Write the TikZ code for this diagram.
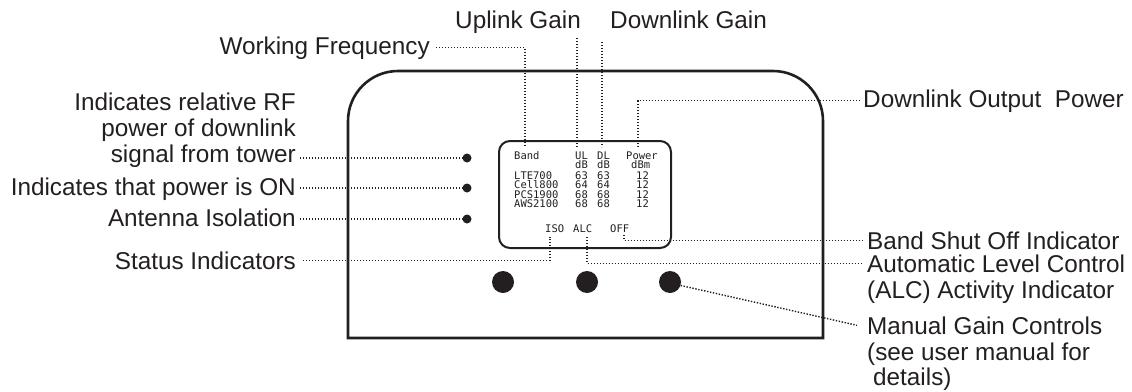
\documentclass[tikz,border=0pt]{standalone}
\usepackage{fontspec}
\setmainfont{Liberation Sans}
\newfontfamily\lcdfont{DejaVu Sans Mono}
\definecolor{ink}{HTML}{231F20}
\begin{document}
\begin{tikzpicture}[x=1pt,y=-1pt,
  lbl/.style={font=\fontsize{24.3}{28}\selectfont, inner sep=0pt, text=ink},
  lcd/.style={font=\lcdfont\fontsize{10.5}{11}\selectfont, inner sep=0pt, text height=7.6pt, text depth=0pt, anchor=base west, text=ink},
  dotline/.style={draw=ink, line width=1.4pt, dash pattern=on 1.4pt off 1.6pt},
  ledot/.style={circle, fill=ink, minimum size=9pt, inner sep=0pt},
  knob/.style={circle, fill=ink, minimum size=22pt, inner sep=0pt}]
\useasboundingbox (0,0) rectangle (1132,391);
% device body
\draw[ink, line width=2.6pt] (348,338) -- (348,121) .. controls (348,93.4) and (370.4,71) .. (398,71)
  -- (773,71) .. controls (800.6,71) and (823,93.4) .. (823,121) -- (823,338) -- cycle;
% display
\draw[ink, line width=2pt, rounded corners=11pt] (499,141) rectangle (671,248);
% display text
\node[lcd] (band) at (514,159.5) {Band};
\node[lcd] (ul) at (575,159.5) {UL};
\node[lcd] (dl) at (597,159.5) {DL};
\node[lcd] (pw) at (626,159.5) {Power};
\node[lcd] (db1) at (575,168.5) {dB};
\node[lcd] (db2) at (597,168.5) {dB};
\node[lcd] (dbm) at (631,168.5) {dBm};
\node[lcd] (r1) at (514,179.5) {LTE700};
\node[lcd] (r2) at (514,188.8) {Cell800};
\node[lcd] (r3) at (514,198.1) {PCS1900};
\node[lcd] (r4) at (514,207.4) {AWS2100};
\node[lcd] (u1) at (575,179.5) {63};
\node[lcd] (u2) at (575,188.8) {64};
\node[lcd] (u3) at (575,198.1) {68};
\node[lcd] (u4) at (575,207.4) {68};
\node[lcd] (v1) at (597,179.5) {63};
\node[lcd] (v2) at (597,188.8) {64};
\node[lcd] (v3) at (597,198.1) {68};
\node[lcd] (v4) at (597,207.4) {68};
\node[lcd] (p1) at (636,179.5) {12};
\node[lcd] (p2) at (636,188.8) {12};
\node[lcd] (p3) at (636,198.1) {12};
\node[lcd] (p4) at (636,207.4) {12};
\node[lcd] (iso) at (545,232.5) {ISO};
\node[lcd] (alc) at (573,232.5) {ALC};
\node[lcd] (off) at (610,232.5) {OFF};
% LEDs and knobs
\node[ledot] (d1) at (467,158) {};
\node[ledot] (d2) at (467,188) {};
\node[ledot] (d3) at (467,219) {};
\node[knob] (k1) at (503,282) {};
\node[knob] (k2) at (587,282) {};
\node[knob] (k3) at (670,282) {};
% labels top
\node[lbl, anchor=base west] (ulg) at (455,28) {Uplink Gain};
\node[lbl, anchor=base west] (dlg) at (610,28) {Downlink Gain};
\node[lbl, anchor=base east] (wf) at (430,54) {Working Frequency};
% labels left
\node[lbl, anchor=base east] (t1) at (296,110) {Indicates relative RF};
\node[lbl, anchor=base east] (t2) at (296,136) {power of downlink};
\node[lbl, anchor=base east] (t3) at (296,162) {signal from tower};
\node[lbl, anchor=base east] (on) at (296,195) {Indicates that power is ON};
\node[lbl, anchor=base east] (ant) at (296,226) {Antenna Isolation};
\node[lbl, anchor=base east] (stat) at (296,269) {Status Indicators};
% labels right
\node[lbl, anchor=base west] (dop) at (863,107) {Downlink Output\ \ Power};
\node[lbl, anchor=base west] (bso) at (867,249) {Band Shut Off Indicator};
\node[lbl, anchor=base west] (alcl) at (867,272) {Automatic Level Control};
\node[lbl, anchor=base west] (alcl2) at (867,298) {(ALC) Activity Indicator};
\node[lbl, anchor=base west] (mgc) at (867,334) {Manual Gain Controls};
\node[lbl, anchor=base west] (mgc2) at (867,360) {(see user manual for};
\node[lbl, anchor=base west] (mgc3) at (873,385) {details)};
% connector ends
\coordinate (wfEnd) at (525,146);
\coordinate (ulTop) at (577,38);
\coordinate (ulBot) at (577,147);
\coordinate (dlTop) at (602,42);
\coordinate (dlBot) at (602,147);
\coordinate (pwTop) at (638,147);
\coordinate (isoB) at (550,237);
\coordinate (alcB) at (587,237);
\coordinate (offB) at (624,235);
% connectors
\draw[dotline] ([xshift=6pt]wf.east) -| (wfEnd);
\draw[dotline] (ulTop) -- (ulBot);
\draw[dotline] (dlTop) -- (dlBot);
\draw[dotline] (pwTop) |- ([xshift=-3pt]dop.west);
\draw[dotline] ([xshift=4pt]t3.east |- d1) -- (d1);
\draw[dotline] ([xshift=4pt]on.east |- d2) -- (d2);
\draw[dotline] ([xshift=4pt]ant.east |- d3) -- (d3);
\draw[dotline] ([xshift=7pt]stat.east) -| (isoB);
\draw[dotline] (alcB) |- ([xshift=-5pt]alcl.west);
\draw[dotline] (offB) |- ([xshift=-5pt]bso.west);
\draw[dotline] (k3.-18) -- ([xshift=-10pt]mgc.west);
\end{tikzpicture}
\end{document}
